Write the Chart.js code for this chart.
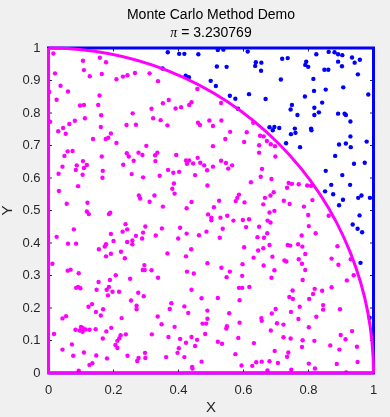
<!DOCTYPE html>
<html>
<head>
<meta charset="utf-8">
<script src="https://cdn.jsdelivr.net/npm/chart.js@4/dist/chart.umd.min.js"></script>
<style>
  html, body { margin: 0; padding: 0; background: #f0f0f0; }
  canvas { display: block; }
</style>
</head>
<body>
<canvas id="chart" width="390" height="417"></canvas>
<script>
const titleText = "Monte Carlo Method Demo";
const piLabel = "π";
const piValue = " = 3.230769";
const xLabel = "X";
const yLabel = "Y";

const xTicks = [0, 0.2, 0.4, 0.6, 0.8, 1];
const yTicks = [0, 0.1, 0.2, 0.3, 0.4, 0.5, 0.6, 0.7, 0.8, 0.9, 1];

// unit square outline and the two straight edges of the quarter disc
const squareX = [0, 1, 1, 0, 0];
const squareY = [0, 0, 1, 1, 0];
const sectorX = [0, 0, 1];
const sectorY = [1, 0, 0];
const circleRadius = 1;

// samples that fell outside the circle (blue)
const outsidePts = [
  [0.367,0.987],[0.402,0.982],[0.418,0.982],[0.461,0.981],[0.521,0.994],[0.538,0.995],[0.613,0.989],[0.351,0.937],
  [0.518,0.943],[0.548,0.942],[0.636,0.945],[0.638,0.956],[0.655,0.955],[0.654,0.930],[0.422,0.915],[0.432,0.910],
  [0.499,0.899],[0.515,0.883],[0.558,0.853],[0.575,0.844],[0.617,0.858],[0.583,0.813],
  [0.719,0.967],[0.736,0.969],[0.824,0.981],[0.862,0.988],[0.880,0.987],[0.891,0.981],[0.904,0.978],[0.934,0.971],
  [0.958,0.964],[0.942,0.955],[0.891,0.958],[0.903,0.944],[0.793,0.958],[0.790,0.948],[0.799,0.942],[0.849,0.933],
  [0.861,0.933],[0.952,0.919],[0.715,0.903],[0.815,0.905],[0.907,0.879],[0.853,0.872],[0.817,0.868],[0.984,0.857],
  [0.789,0.851],[0.668,0.843],[0.842,0.832],[0.749,0.825],[0.745,0.811],[0.818,0.816],[0.766,0.794],[0.818,0.794],
  [0.832,0.802],[0.891,0.798],[0.911,0.798],[0.915,0.794],[0.929,0.774],[0.680,0.756],[0.695,0.757],[0.690,0.747],
  [0.710,0.754],[0.758,0.752],[0.760,0.739],[0.746,0.735],[0.808,0.752],[0.809,0.747],[0.929,0.728],[0.731,0.707],
  [0.774,0.695],[0.894,0.703],[0.915,0.706],[0.930,0.695],[0.979,0.712],
  [0.882,0.668],[0.940,0.644],[0.973,0.647],[0.853,0.622],[0.904,0.609],[0.870,0.579],[0.928,0.579],[0.851,0.559],
  [0.876,0.550],[0.953,0.539],[0.963,0.546],[0.989,0.539],[0.906,0.533],[0.894,0.516],[0.957,0.485],[0.936,0.457],
  [0.951,0.444],[0.965,0.433],
  [0.960,0.339],[0.988,0.170]
];

// samples inside the quarter circle (magenta)
const insidePts = [
  [0.015,0.983],[0.106,0.961],[0.158,0.970],[0.177,0.956],[0.020,0.922],[0.109,0.932],[0.127,0.913],[0.164,0.920],
  [0.209,0.904],[0.229,0.912],[0.243,0.916],[0.266,0.923],[0.311,0.922],[0.037,0.884],[0.060,0.866],[0.002,0.865],
  [0.157,0.854],[0.025,0.841],[0.097,0.823],[0.109,0.825],[0.153,0.825],[0.317,0.813],[0.259,0.799],[0.162,0.793],
  [0.112,0.784],[0.322,0.784],[0.005,0.773],[0.081,0.776],[0.064,0.766],[0.240,0.763],[0.269,0.764],[0.045,0.754],
  [0.161,0.757],[0.030,0.744],[0.053,0.736],[0.192,0.737],[0.137,0.720],[0.176,0.720],[0.184,0.724],[0.209,0.708],
  [0.301,0.699],[0.059,0.682],[0.074,0.683],
  [0.337,0.898],[0.458,0.874],[0.352,0.830],[0.370,0.840],[0.391,0.814],[0.408,0.818],[0.433,0.825],[0.440,0.833],
  [0.531,0.831],[0.345,0.778],[0.366,0.762],[0.460,0.770],[0.466,0.763],[0.495,0.777],[0.506,0.760],[0.532,0.777],
  [0.630,0.770],[0.559,0.742],[0.610,0.741],[0.651,0.730],[0.544,0.720],[0.602,0.711],[0.506,0.698],[0.648,0.701],
  [0.662,0.728],[0.672,0.714],[0.684,0.704],[0.697,0.698],
  [0.049,0.668],[0.241,0.676],[0.247,0.666],[0.277,0.678],[0.289,0.671],[0.164,0.666],[0.106,0.652],[0.087,0.639],
  [0.118,0.640],[0.043,0.635],[0.109,0.631],[0.084,0.625],[0.262,0.653],[0.230,0.641],[0.167,0.622],[0.031,0.613],
  [0.105,0.610],[0.256,0.612],[0.166,0.601],[0.291,0.602],[0.091,0.575],[0.032,0.560],[0.278,0.546],[0.282,0.537],
  [0.311,0.527],[0.056,0.521],[0.120,0.524],[0.118,0.497],[0.124,0.489],[0.190,0.493],[0.186,0.489],[0.078,0.442],
  [0.237,0.458],[0.242,0.442],[0.228,0.435],[0.298,0.451],[0.291,0.432],[0.025,0.419],[0.192,0.428],[0.269,0.422],
  [0.060,0.398],[0.085,0.398],[0.200,0.406],[0.242,0.403],[0.258,0.408],[0.258,0.396],[0.288,0.414],[0.177,0.396],
  [0.173,0.389],[0.155,0.381],[0.223,0.373],[0.192,0.367],[0.177,0.359],[0.235,0.353],
  [0.335,0.678],[0.328,0.670],[0.329,0.652],[0.393,0.671],[0.423,0.654],[0.433,0.654],[0.426,0.644],[0.459,0.662],
  [0.445,0.645],[0.467,0.647],[0.479,0.639],[0.488,0.624],[0.506,0.635],[0.531,0.653],[0.546,0.646],[0.565,0.639],
  [0.553,0.629],[0.648,0.678],[0.368,0.625],[0.384,0.616],[0.402,0.619],[0.342,0.607],[0.451,0.609],[0.386,0.583],
  [0.381,0.567],[0.388,0.552],[0.489,0.577],[0.623,0.587],[0.653,0.604],[0.326,0.546],[0.586,0.549],[0.581,0.539],
  [0.576,0.529],[0.603,0.525],[0.440,0.526],[0.352,0.512],[0.425,0.507],[0.525,0.530],[0.509,0.510],[0.491,0.488],
  [0.501,0.478],[0.501,0.470],[0.529,0.478],[0.550,0.484],[0.569,0.469],[0.598,0.471],[0.617,0.473],[0.648,0.450],
  [0.608,0.449],[0.405,0.447],[0.349,0.445],[0.330,0.423],[0.536,0.444],[0.486,0.435],[0.425,0.429],[0.399,0.414],
  [0.463,0.424],[0.527,0.416],[0.643,0.418],[0.602,0.387],[0.439,0.381],[0.366,0.368],[0.423,0.359],[0.645,0.377],
  [0.631,0.355],
  [0.698,0.666],[0.657,0.628],[0.686,0.597],[0.739,0.585],[0.749,0.582],[0.734,0.570],[0.770,0.581],[0.796,0.577],
  [0.808,0.576],[0.683,0.546],[0.693,0.556],[0.666,0.539],[0.724,0.530],[0.742,0.520],[0.812,0.532],[0.661,0.519],
  [0.786,0.512],[0.695,0.499],[0.680,0.494],[0.799,0.486],[0.862,0.484],[0.674,0.469],[0.683,0.463],[0.801,0.452],
  [0.673,0.430],[0.822,0.430],[0.779,0.423],[0.663,0.416],[0.736,0.394],[0.744,0.392],[0.768,0.396],[0.781,0.389],
  [0.790,0.366],[0.661,0.384],[0.680,0.394],[0.889,0.390],[0.689,0.358],[0.770,0.350],[0.871,0.352],[0.930,0.350],
  [0.012,0.336],[0.295,0.332],[0.059,0.315],[0.068,0.318],[0.290,0.317],[0.296,0.317],[0.317,0.316],[0.093,0.307],
  [0.207,0.301],[0.251,0.290],[0.154,0.280],[0.189,0.286],[0.085,0.262],[0.091,0.265],[0.098,0.261],[0.148,0.256],
  [0.179,0.256],[0.186,0.265],[0.197,0.250],[0.217,0.250],[0.276,0.247],[0.183,0.239],[0.293,0.236],[0.254,0.223],
  [0.134,0.212],[0.123,0.204],[0.271,0.207],[0.271,0.196],[0.168,0.196],[0.146,0.188],[0.161,0.177],[0.054,0.175],
  [0.043,0.168],[0.225,0.169],[0.083,0.133],[0.100,0.142],[0.106,0.138],[0.096,0.131],[0.114,0.134],[0.105,0.127],
  [0.126,0.133],[0.145,0.135],[0.178,0.128],[0.193,0.139],[0.017,0.120],[0.318,0.119],[0.222,0.116],[0.238,0.119],
  [0.167,0.106],[0.218,0.107],[0.212,0.099],[0.206,0.086],[0.212,0.077],[0.072,0.088],[0.043,0.072],[0.109,0.063],
  [0.076,0.053],[0.147,0.054],[0.180,0.045],[0.243,0.053],[0.297,0.062],[0.298,0.046],[0.277,0.046],[0.273,0.037],
  [0.135,0.030],[0.126,0.025],[0.093,0.007],
  [0.489,0.338],[0.597,0.335],[0.532,0.324],[0.558,0.312],[0.548,0.295],[0.596,0.299],[0.426,0.312],[0.447,0.306],
  [0.337,0.293],[0.440,0.256],[0.586,0.262],[0.596,0.262],[0.618,0.265],[0.471,0.230],[0.521,0.231],[0.588,0.224],
  [0.378,0.215],[0.373,0.197],[0.418,0.205],[0.430,0.185],[0.489,0.192],[0.556,0.184],[0.336,0.174],[0.489,0.167],
  [0.655,0.169],[0.656,0.161],[0.348,0.150],[0.388,0.142],[0.474,0.152],[0.485,0.152],[0.549,0.144],[0.547,0.137],
  [0.588,0.155],[0.482,0.120],[0.369,0.111],[0.405,0.105],[0.440,0.111],[0.457,0.102],[0.423,0.093],[0.451,0.083],
  [0.521,0.096],[0.534,0.090],[0.584,0.108],[0.632,0.092],[0.401,0.076],[0.397,0.062],[0.362,0.049],[0.418,0.049],
  [0.471,0.035],[0.575,0.058],[0.594,0.023],[0.627,0.022],[0.639,0.033],[0.656,0.035],[0.442,0.019],[0.443,0.014],
  [0.662,0.331],[0.726,0.346],[0.732,0.343],[0.780,0.336],[0.892,0.333],[0.695,0.316],[0.790,0.317],[0.939,0.301],
  [0.686,0.293],[0.782,0.286],[0.918,0.285],[0.819,0.259],[0.751,0.254],[0.842,0.253],[0.871,0.264],[0.814,0.243],
  [0.741,0.234],[0.752,0.228],[0.802,0.228],[0.845,0.209],[0.845,0.195],[0.773,0.204],[0.699,0.197],[0.746,0.188],
  [0.897,0.196],[0.687,0.183],[0.824,0.173],[0.769,0.166],[0.703,0.153],[0.723,0.149],[0.801,0.141],[0.684,0.131],
  [0.934,0.129],[0.899,0.117],[0.723,0.110],[0.745,0.106],[0.782,0.101],[0.818,0.099],[0.914,0.104],[0.867,0.085],
  [0.780,0.080],[0.895,0.072],[0.949,0.081],[0.696,0.068],[0.738,0.063],[0.734,0.050],[0.680,0.036],[0.706,0.031],
  [0.801,0.029],[0.820,0.014],[0.887,0.028],[0.951,0.034],[0.747,0.010],[0.674,0.008],[0.916,0.002]
];

const MAGENTA = "#ff00ff";
const BLUE = "#0000ff";
const AXIS = "#262626";
const FONT = '"Liberation Sans", Arial, Helvetica, sans-serif';

function toXY(xs, ys) {
  return xs.map((x, i) => ({ x: x, y: ys[i] }));
}

function toPoints(pairs) {
  return pairs.map(([x, y]) => ({ x, y }));
}

// background, axes box, inward ticks, arc and the two-line title
const matlabLook = {
  id: "matlabLook",
  beforeDraw(chart) {
    const { ctx, chartArea: a } = chart;
    ctx.save();
    ctx.fillStyle = "#f0f0f0";
    ctx.fillRect(0, 0, chart.width, chart.height);
    ctx.fillStyle = "#ffffff";
    ctx.fillRect(a.left, a.top, a.right - a.left, a.bottom - a.top);
    ctx.restore();
  },
  beforeDatasetsDraw(chart) {
    const { ctx, chartArea: a, scales } = chart;
    ctx.save();
    ctx.strokeStyle = AXIS;
    ctx.lineWidth = 1;
    ctx.strokeRect(a.left, a.top, a.right - a.left, a.bottom - a.top);
    const len = 3.5;
    ctx.beginPath();
    for (const v of xTicks) {
      const px = scales.x.getPixelForValue(v);
      ctx.moveTo(px, a.bottom); ctx.lineTo(px, a.bottom - len);
      ctx.moveTo(px, a.top); ctx.lineTo(px, a.top + len);
    }
    for (const v of yTicks) {
      const py = scales.y.getPixelForValue(v);
      ctx.moveTo(a.left, py); ctx.lineTo(a.left + len, py);
      ctx.moveTo(a.right, py); ctx.lineTo(a.right - len, py);
    }
    ctx.stroke();
    ctx.restore();
  },
  afterDatasetsDraw(chart) {
    const { ctx, scales } = chart;
    const cx = scales.x.getPixelForValue(0);
    const cy = scales.y.getPixelForValue(0);
    const rx = scales.x.getPixelForValue(circleRadius) - cx;
    const ry = cy - scales.y.getPixelForValue(circleRadius);
    ctx.save();
    ctx.strokeStyle = MAGENTA;
    ctx.lineWidth = 3;
    ctx.beginPath();
    ctx.ellipse(cx, cy, rx, ry, 0, -Math.PI / 2, 0);
    ctx.stroke();
    ctx.restore();
  },
  afterDraw(chart) {
    const { ctx, chartArea: a } = chart;
    const mid = (a.left + a.right) / 2;
    ctx.save();
    ctx.fillStyle = "#000000";
    ctx.textBaseline = "middle";
    ctx.textAlign = "center";
    ctx.font = "14px " + FONT;
    ctx.fillText(titleText, mid, 15);

    const piFont = 'italic 14px "Liberation Serif", "Times New Roman", serif';
    const restFont = "14px " + FONT;
    ctx.font = piFont;
    const w1 = ctx.measureText(piLabel).width;
    ctx.font = restFont;
    const w2 = ctx.measureText(piValue).width;
    let x = mid - (w1 + w2) / 2;
    ctx.textAlign = "left";
    ctx.font = piFont;
    ctx.fillText(piLabel, x, 33);
    ctx.font = restFont;
    ctx.fillText(piValue, x + w1, 33);
    ctx.restore();
  },
};

const config = {
  type: "scatter",
  data: {
    datasets: [
      {
        label: "square",
        type: "line",
        data: toXY(squareX, squareY),
        borderColor: BLUE,
        borderWidth: 3,
        pointRadius: 0,
        fill: false,
        tension: 0,
        clip: false,
        order: 1,
      },
      {
        label: "sector",
        type: "line",
        data: toXY(sectorX, sectorY),
        borderColor: MAGENTA,
        borderWidth: 3,
        pointRadius: 0,
        fill: false,
        tension: 0,
        clip: false,
        order: 0,
      },
      {
        label: "inside",
        data: toPoints(insidePts),
        backgroundColor: MAGENTA,
        borderWidth: 0,
        pointRadius: 2.2,
        order: 2,
      },
      {
        label: "outside",
        data: toPoints(outsidePts),
        backgroundColor: BLUE,
        borderWidth: 0,
        pointRadius: 2.2,
        order: 2,
      },
    ],
  },
  options: {
    responsive: false,
    animation: false,
    devicePixelRatio: 1,
    layout: { padding: { left: 0, right: 16.5, top: 48, bottom: 0 } },
    plugins: {
      legend: { display: false },
      tooltip: { enabled: false },
      title: { display: false },
    },
    scales: {
      x: {
        type: "linear",
        min: 0,
        max: 1,
        afterBuildTicks: (scale) => { scale.ticks = xTicks.map((v) => ({ value: v })); },
        afterFit: (scale) => { scale.height = 44; },
        grid: { display: false, drawTicks: false },
        border: { display: false },
        ticks: {
          padding: 10,
          color: AXIS,
          font: { family: FONT, size: 13 },
          maxRotation: 0,
          callback: (v) => String(+v.toFixed(1)),
        },
        title: {
          display: true,
          text: xLabel,
          color: AXIS,
          font: { family: FONT, size: 15, lineHeight: 1.2 },
          padding: 0,
        },
      },
      y: {
        type: "linear",
        min: 0,
        max: 1,
        afterBuildTicks: (scale) => { scale.ticks = yTicks.map((v) => ({ value: v })); },
        afterFit: (scale) => { scale.width = 48.5; },
        grid: { display: false, drawTicks: false },
        border: { display: false },
        ticks: {
          padding: 8,
          color: AXIS,
          font: { family: FONT, size: 13 },
          callback: (v) => String(+v.toFixed(1)),
        },
        title: {
          display: true,
          text: yLabel,
          color: AXIS,
          font: { family: FONT, size: 15, lineHeight: 1 },
          padding: 0,
        },
      },
    },
  },
  plugins: [matlabLook],
};

new Chart(document.getElementById("chart").getContext("2d"), config);
</script>
</body>
</html>
